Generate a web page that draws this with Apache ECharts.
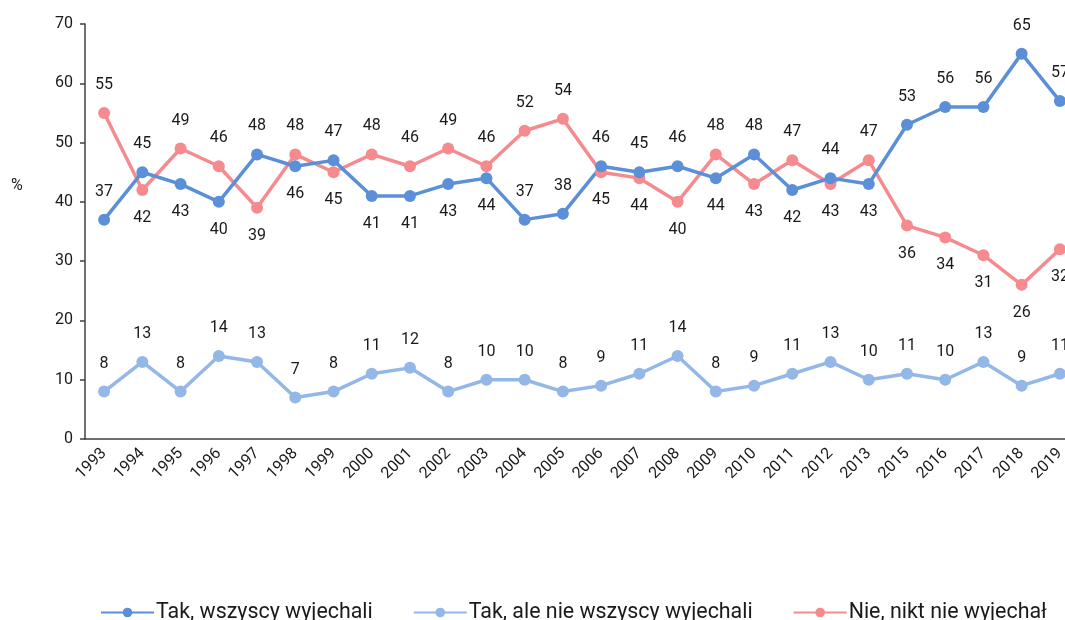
<!DOCTYPE html>
<html>
<head>
<meta charset="utf-8">
<script src="https://cdn.jsdelivr.net/npm/echarts@6/dist/echarts.min.js"></script>
<style>
  html, body { margin: 0; padding: 0; background: #fff; }
  #chart { width: 1065px; height: 620px; }
</style>
</head>
<body>
<div id="chart"></div>
<script>
// lata (bez 2014)
const years = ['1993', '1994', '1995', '1996', '1997', '1998', '1999', '2000', '2001', '2002',
  '2003', '2004', '2005', '2006', '2007', '2008', '2009', '2010', '2011', '2012', '2013',
  '2015', '2016', '2017', '2018', '2019']

const wszyscy = [37, 45, 43, 40, 48, 46, 47, 41, 41, 43, 44, 37, 38, 46, 45, 46, 44, 48, 42, 44, 43, 53, 56, 56, 65, 57]
const nieWszyscy = [8, 13, 8, 14, 13, 7, 8, 11, 12, 8, 10, 10, 8, 9, 11, 14, 8, 9, 11, 13, 10, 11, 10, 13, 9, 11]
const nikt = [55, 42, 49, 46, 39, 48, 45, 48, 46, 49, 46, 52, 54, 45, 44, 40, 48, 43, 47, 43, 47, 36, 34, 31, 26, 32]

// gdzie stoi etykieta: t = nad punktem, b = pod punktem
const wszyscyPos = 'ttbbtbtbbbbtttttbtbtbttttt'
const niktPos = 'tbttbtbttttttbbbtbtbtbbbbb'

const yTicks = [0, 10, 20, 30, 40, 50, 60, 70]

function withLabels(values, pos) {
  return values.map((v, i) => ({
    value: v,
    label: { position: pos[i] === 'b' ? 'bottom' : 'top' },
  }))
}

const mycharts = echarts.init(document.getElementById('chart'))

const labelStyle = {
  show: true,
  position: 'top',
  distance: 14,
  color: '#1a1a1a',
  fontSize: 16,
  fontFamily: 'Roboto',
}

function lineSeries(name, data, color) {
  return {
    name: name,
    type: 'line',
    data: data,
    symbol: 'circle',
    symbolSize: 12,
    itemStyle: { color: color },
    lineStyle: { width: 3.5, color: color },
    label: labelStyle,
  }
}

mycharts.setOption({
  animation: false,
  textStyle: { fontFamily: 'Roboto' },
  grid: {
    left: 85,
    top: 24,
    width: 994,
    height: 415,
    outerBoundsMode: 'none',
  },
  graphic: [
    {
      type: 'text',
      left: 11,
      top: 178,
      style: { text: '%', fontSize: 16, fontFamily: 'Roboto', fill: '#1a1a1a' },
    },
  ],
  xAxis: {
    type: 'category',
    data: years,
    boundaryGap: true,
    axisLine: { show: true, lineStyle: { color: '#404040', width: 1.5 } },
    axisTick: { show: false },
    axisLabel: {
      interval: 0,
      rotate: 45,
      color: '#1a1a1a',
      fontSize: 16,
      margin: 12,
    },
    splitLine: { show: false },
  },
  yAxis: {
    type: 'value',
    min: yTicks[0],
    max: yTicks[yTicks.length - 1],
    interval: 10,
    axisLine: { show: true, lineStyle: { color: '#404040', width: 1.5 } },
    axisTick: { show: true, length: 5, lineStyle: { color: '#404040', width: 1.5 } },
    axisLabel: { color: '#1a1a1a', fontSize: 16, margin: 12 },
    splitLine: { show: false },
  },
  legend: {
    top: 597,
    left: 95,
    itemWidth: 53,
    itemHeight: 12,
    itemGap: 40,
    textStyle: { fontSize: 21.4, color: '#1a1a1a', fontFamily: 'Roboto', padding: [0, 0, 0, -3] },
    data: ['Tak, wszyscy wyjechali', 'Tak, ale nie wszyscy wyjechali', 'Nie, nikt nie wyjechał'],
  },
  series: [
    lineSeries('Tak, ale nie wszyscy wyjechali', nieWszyscy, '#93b7e6'),
    lineSeries('Nie, nikt nie wyjechał', withLabels(nikt, niktPos), '#f68b8f'),
    lineSeries('Tak, wszyscy wyjechali', withLabels(wszyscy, wszyscyPos), '#5b8fd7'),
  ],
})
</script>
</body>
</html>
